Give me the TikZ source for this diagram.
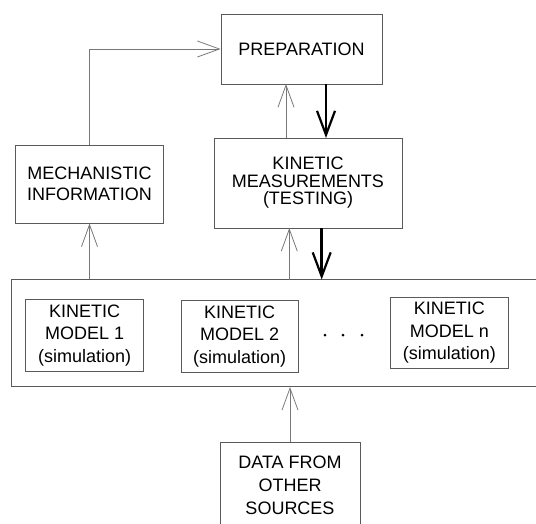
\documentclass[tikz,border=0pt]{standalone}
\usepackage{fontspec}
\setmainfont{Liberation Sans}
\usetikzlibrary{arrows.meta}
\definecolor{edge}{RGB}{90,90,90}
\definecolor{wire}{RGB}{120,120,120}

\begin{document}
\begin{tikzpicture}[x=1pt, y=-1pt,
  box/.style={draw=edge, line width=0.9pt, align=center, inner sep=0pt,
    font=\fontsize{18}{21}\selectfont},
  feed/.style={draw=wire, line width=0.9pt, -{Straight Barb[length=22pt, width=16pt, line width=0.8pt]}},
  flow/.style={draw=black, line width=2.6pt, -{Straight Barb[length=24pt, width=18pt, line width=2.2pt]}}]
  \clip (0,0) rectangle (536,523);
  %% Top boxes
  \node[box, minimum width=161pt, minimum height=70pt] (prep) at (301.5,49) {PREPARATION};
  \node[box, minimum width=148pt, minimum height=78pt] (mech) at (89.5,184) {MECHANISTIC\\INFORMATION};
  \node[box, minimum width=188pt, minimum height=90pt, font=\fontsize{18}{17.5}\selectfont]
    (meas) at (308,183) {KINETIC\\MEASUREMENTS\\(TESTING)};
  %% Frame with the models
  \node[box, minimum width=534pt, minimum height=107pt] (frame) at (278,333) {};
  \node[box, minimum width=118pt, minimum height=72pt, font=\fontsize{18}{22.5}\selectfont]
    (model1) at (84.7,335.2) {KINETIC\\MODEL 1\\(simulation)};
  \node[box, minimum width=117pt, minimum height=72pt, font=\fontsize{18}{22.5}\selectfont]
    (model2) at (239.7,336.3) {KINETIC\\MODEL 2\\(simulation)};
  \node[box, minimum width=118pt, minimum height=71pt, font=\fontsize{18}{22.5}\selectfont]
    (modeln) at (449.3,333) {KINETIC\\MODEL n\\(simulation)};
  \foreach \x in {325,343,362}
    \fill (\x,335) circle (1.5pt);
  %% Bottom box (cut by the page)
  \node[box, minimum width=140pt, minimum height=85pt, font=\fontsize{18}{23}\selectfont]
    (data) at (290,485) {DATA FROM\\OTHER\\SOURCES};
  %% Thin arrows
  \draw[feed] (mech.north) |- (prep.west);
  \draw[feed] (mech.south |- frame.north) -- (mech.south);
  \draw[feed] (286,137.7) -- (286,84);
  \draw[feed] (289.3,279.5) -- (289.3,228);
  \draw[feed] (data.north) -- (data.north |- frame.south);
  %% Thick arrows
  \draw[flow] (326,84) -- (326,138);
  \draw[flow] (321.7,228) -- (321.7,279.5);
\end{tikzpicture}
\end{document}
